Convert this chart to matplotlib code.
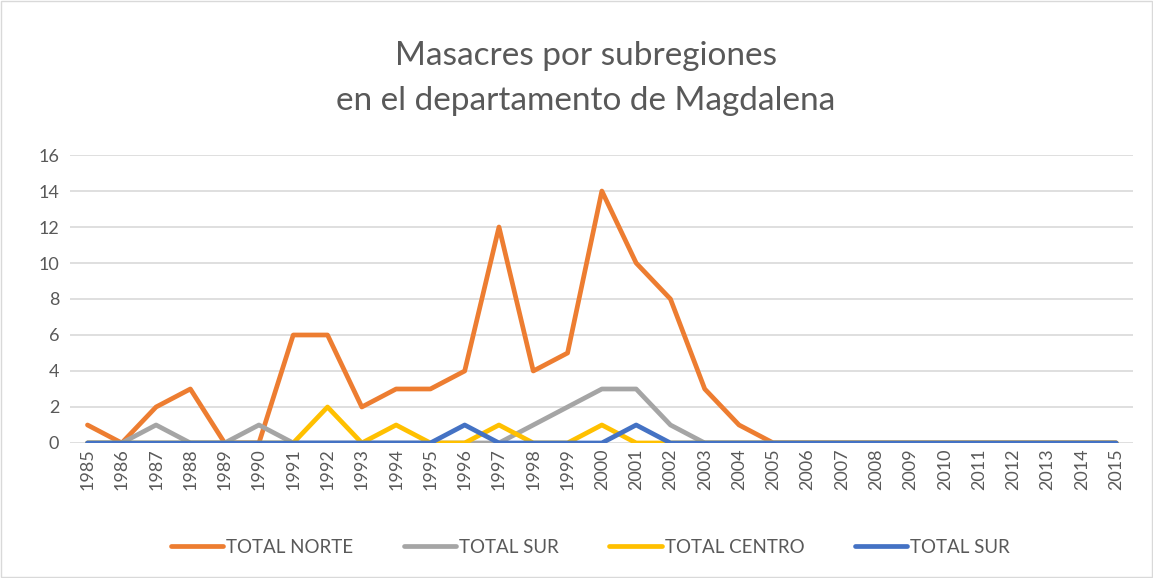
import matplotlib.pyplot as plt
import numpy as np
from matplotlib.patches import Rectangle

years = [str(y) for y in range(1985, 2016)]
total_norte = [1, 0, 2, 3, 0, 0, 6, 6, 2, 3, 3, 4, 12, 4, 5, 14, 10, 8, 3, 1, 0,
               0, 0, 0, 0, 0, 0, 0, 0, 0, 0]
total_sur_gris = [0, 0, 1, 0, 0, 1, 0, 0, 0, 0, 0, 0, 0, 1, 2, 3, 3, 1, 0, 0, 0,
                  0, 0, 0, 0, 0, 0, 0, 0, 0, 0]
total_centro = [0, 0, 0, 0, 0, 0, 0, 2, 0, 1, 0, 0, 1, 0, 0, 1, 0, 0, 0, 0, 0,
                0, 0, 0, 0, 0, 0, 0, 0, 0, 0]
total_sur_azul = [0, 0, 0, 0, 0, 0, 0, 0, 0, 0, 0, 1, 0, 0, 0, 0, 1, 0, 0, 0, 0,
                  0, 0, 0, 0, 0, 0, 0, 0, 0, 0]

txt = '#595959'
plt.rcParams['font.family'] = ['Lato', 'DejaVu Sans']

fig = plt.figure(figsize=(11.53, 5.78), dpi=100)
ax = fig.add_axes([0.061, 0.2336, 0.922, 0.4982])

x = np.arange(len(years))
series = [(total_norte, '#ED7D31', 'TOTAL NORTE'),
          (total_sur_gris, '#A5A5A5', 'TOTAL SUR'),
          (total_centro, '#FFC000', 'TOTAL CENTRO'),
          (total_sur_azul, '#4472C4', 'TOTAL SUR')]
for vals, col, lab in series:
    ax.plot(x, vals, color=col, lw=3.4, label=lab, solid_capstyle='round', zorder=3)

ax.set_xlim(-0.5, len(years) - 0.5)
ax.set_ylim(0, 16)
ax.set_yticks(range(0, 17, 2))
ax.set_xticks(x)
ax.set_xticklabels(years, rotation=90, fontsize=13, color=txt)
ax.tick_params(axis='y', labelsize=13, colors=txt, length=0, pad=8)
ax.tick_params(axis='x', length=0, pad=4)
ax.grid(axis='y', color='#D9D9D9', lw=1.2)
ax.set_axisbelow(True)
for s in ax.spines.values():
    s.set_visible(False)

fig.text(0.508, 0.903, 'Masacres por subregiones', ha='center', va='center',
         fontsize=24, color=txt)
fig.text(0.508, 0.825, 'en el departamento de Magdalena', ha='center', va='center',
         fontsize=24, color=txt)

fig.legend(loc='center', bbox_to_anchor=(0.512, 0.053), ncol=4, frameon=False,
           fontsize=13.5, labelcolor=txt, handlelength=2.8, handletextpad=0.15,
           columnspacing=2.7)

fig.patches.append(Rectangle((0.001, 0.001), 0.998, 0.998, transform=fig.transFigure,
                             fill=False, edgecolor='#D9D9D9', lw=1))

plt.savefig('out.png', dpi=100)
